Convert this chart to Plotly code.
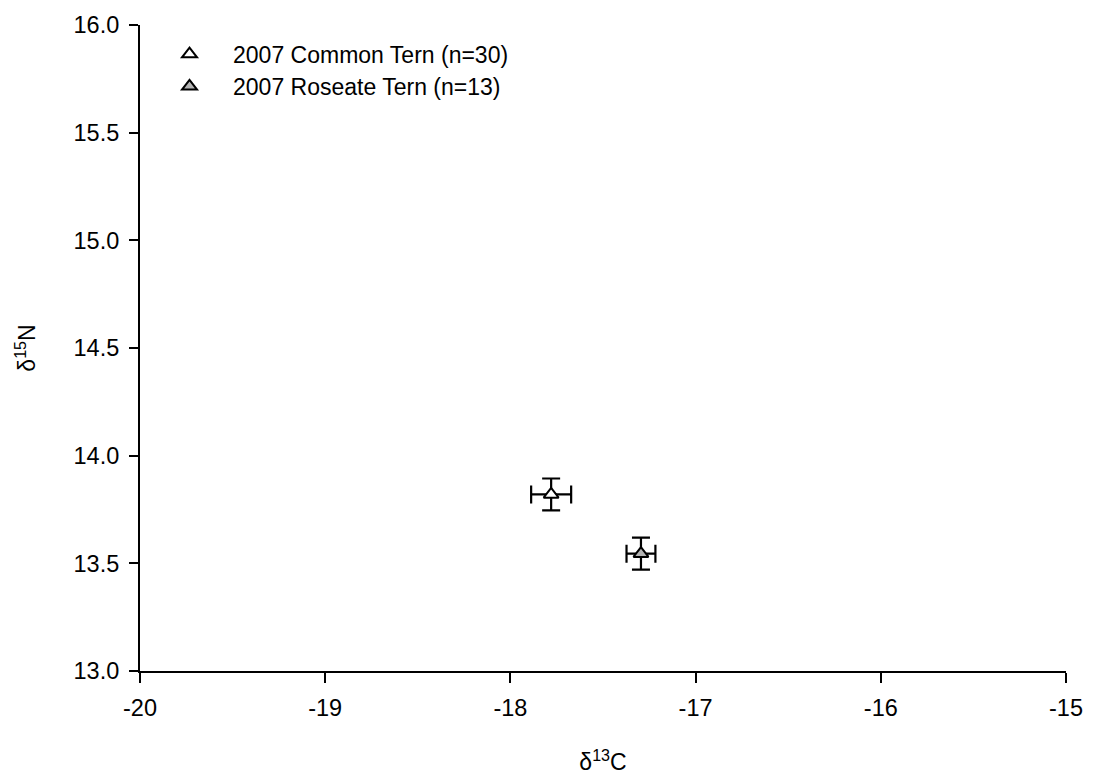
import plotly.graph_objects as go

series = ["2007 Common Tern (n=30)", "2007 Roseate Tern (n=13)"]
d13c = [-17.78, -17.295]
d13c_err = [0.108, 0.078]
d15n = [13.82, 13.545]
d15n_err = [0.074, 0.074]
fills = ["white", "#b4b4b4"]
legend_ids = ["legend", "legend2"]

x_ticks = [-20, -19, -18, -17, -16, -15]
y_ticks = [13.0, 13.5, 14.0, 14.5, 15.0, 15.5, 16.0]

fig = go.Figure()
for name, x, xe, y, ye, fc, lg in zip(series, d13c, d13c_err, d15n, d15n_err, fills, legend_ids):
    fig.add_trace(go.Scatter(
        x=[x], y=[y], mode="markers", name=name, legend=lg,
        marker=dict(symbol="triangle-up", size=13, color=fc,
                    line=dict(color="black", width=2)),
        error_x=dict(type="data", array=[xe], color="black", thickness=2.2, width=9),
        error_y=dict(type="data", array=[ye], color="black", thickness=2.2, width=9),
    ))

font = "Liberation Sans, Arial, sans-serif"
leg_common = dict(xanchor="left", yanchor="middle", font=dict(size=23),
                  bgcolor="rgba(0,0,0,0)", itemwidth=77, borderwidth=0)
fig.update_layout(
    width=1095, height=783,
    margin=dict(l=140, r=26, t=23, b=111),
    paper_bgcolor="white", plot_bgcolor="white",
    font=dict(family=font, size=23, color="black"),
    showlegend=True,
    legend=dict(x=0.0065, y=0.955, **leg_common),
    legend2=dict(x=0.0065, y=0.905, **leg_common),
    xaxis=dict(range=[-20, -15], tickvals=x_ticks, ticktext=[str(v) for v in x_ticks],
               showgrid=False, zeroline=False, showline=True, linecolor="black",
               linewidth=2, ticks="outside", ticklen=10, tickwidth=2, tickcolor="black",
               tickfont=dict(size=23.5), ticklabelstandoff=5,
               title=dict(text="δ<sup>13</sup>C", font=dict(size=23), standoff=34)),
    yaxis=dict(range=[13.0, 16.0], tickvals=y_ticks, ticktext=[f"{v:.1f}" for v in y_ticks],
               showgrid=False, zeroline=False, showline=True, linecolor="black",
               linewidth=2, ticks="outside", ticklen=9, tickwidth=2, tickcolor="black",
               tickfont=dict(size=23.5), ticklabelstandoff=5,
               title=dict(text="δ<sup>15</sup>N", font=dict(size=23), standoff=31)),
)

fig.write_html("out.html")
